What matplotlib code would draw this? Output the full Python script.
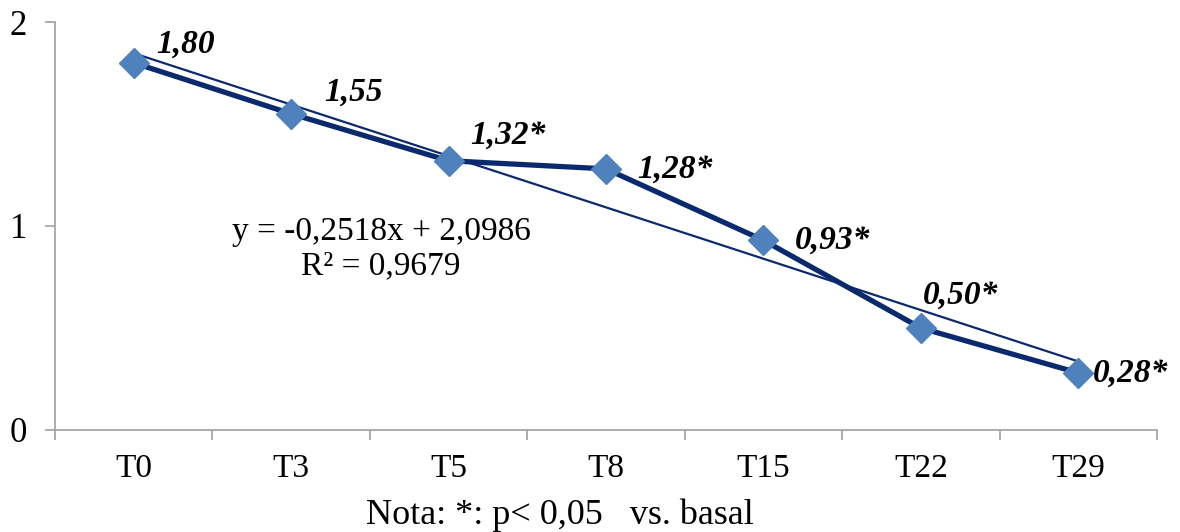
import numpy as np
import matplotlib.pyplot as plt

# data
times = ["T0", "T3", "T5", "T8", "T15", "T22", "T29"]
values = [1.80, 1.55, 1.32, 1.28, 0.93, 0.50, 0.28]
labels = ["1,80", "1,55", "1,32*", "1,28*", "0,93*", "0,50*", "0,28*"]
# trend line coefficients (x = 1..7)
slope = -0.2518
intercept = 2.0986

# label offsets in pixels (dx to left edge, dy to centre)
offsets = [(23, 19), (33, 22), (22, 25), (31, 0), (31, 0), (2, 33), (15, 0)]

plt.rcParams['font.family'] = ['Liberation Serif', 'DejaVu Serif']

line_col = "#0b2a6e"
marker_col = "#4f81bd"
axis_col = "#a0a0a0"

fig = plt.figure(figsize=(11.8, 5.32), dpi=100)
ax = fig.add_axes([55/1180, 102/532, 1102/1180, 408/532])

x = np.arange(len(times))
trend_x = x + 1
ax.plot(x, slope*trend_x + intercept, color=line_col, lw=1.6, zorder=2)
ax.plot(x, values, color=line_col, lw=3.8, zorder=3,
        marker="D", markersize=15, markerfacecolor=marker_col,
        markeredgecolor=marker_col)

for xi, v, lab, (dx, dy) in zip(x, values, labels, offsets):
    ax.annotate(lab, (xi, v), xytext=(dx, dy), textcoords="offset pixels",
                ha="left", va="center", fontsize=24,
                fontweight="bold", fontstyle="italic", color="black")

# regression equation, placed in pixel space
fig.text(381/1180, 1 - 249/532, "y = -0,2518x + 2,0986\nR² = 0,9679",
         ha="center", va="center", fontsize=24, linespacing=1.18)

ax.set_xlim(-0.5, len(times) - 0.5)
ax.set_ylim(0, 2)
ax.set_yticks([0, 1, 2])
ax.set_xticks(x)
ax.set_xticklabels(times)
ax.set_xticks(np.arange(-0.5, len(times), 1), minor=True)
ax.tick_params(axis="x", which="major", length=0, pad=17, labelsize=24)
ax.tick_params(axis="x", which="minor", length=7, color=axis_col, width=1.2)
ax.tick_params(axis="y", length=7, color=axis_col, width=1.2, pad=13,
               labelsize=25)
for s in ["top", "right"]:
    ax.spines[s].set_visible(False)
for s in ["left", "bottom"]:
    ax.spines[s].set_color(axis_col)
    ax.spines[s].set_linewidth(1.2)

fig.text(560/1180, 1 - 515/532, "Nota: *: p< 0,05   vs. basal",
         ha="center", va="center", fontsize=26)

fig.savefig("out.png", dpi=100)
